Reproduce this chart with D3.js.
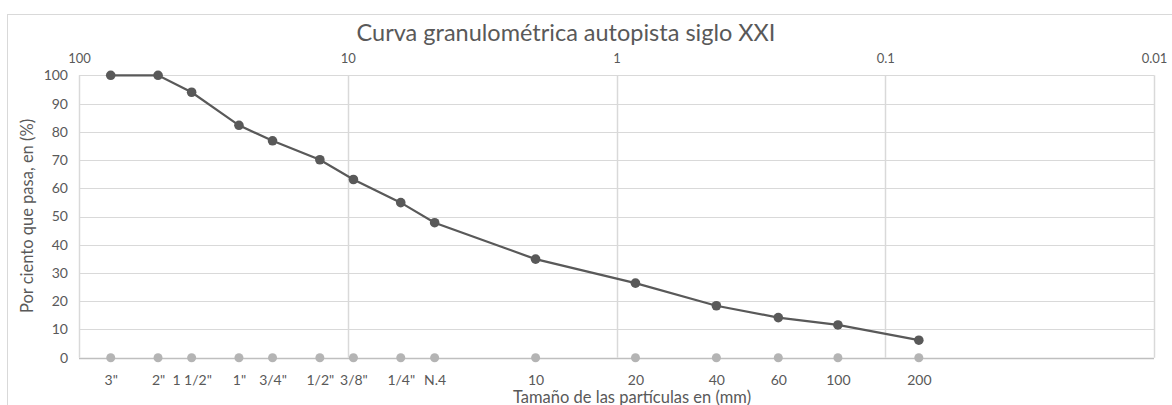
<!DOCTYPE html>
<html>
<head>
<meta charset="utf-8">
<script src="https://cdn.jsdelivr.net/npm/d3@7"></script>
<style>
  body { margin: 0; background: #fff; }
  svg { font-family: Lato, "Noto Sans", sans-serif; }
</style>
</head>
<body>
<div id="chart"></div>
<script>
// sieve labels and their opening sizes (mm)
var sieveLabels = ['3"', '2"', '1 1/2"', '1"', '3/4"', '1/2"', '3/8"', '1/4"', "N.4", "10", "20", "40", "60", "100", "200"];
var sieveSizes = [76.2, 50.8, 38.1, 25.4, 19.05, 12.7, 9.525, 6.35, 4.75, 2.0, 0.85, 0.425, 0.25, 0.15, 0.075];
// percent passing
var passing = [100, 100, 94, 82.3, 76.8, 70.1, 63.1, 54.9, 47.8, 34.9, 26.4, 18.4, 14.2, 11.6, 6.2];
var topTicks = [100, 10, 1, 0.1, 0.01];
var yTicks = [0, 10, 20, 30, 40, 50, 60, 70, 80, 90, 100];

function init()
{
    var w = 1172;
    var h = 405;
    var left = 79, right = 1154, top = 75.3, bottom = 357.7;
    var textColor = "#595959";
    var gridColor = "#d9d9d9";

    var svg = d3.select("#chart")
                .append("svg")
                .attr("width", w)
                .attr("height", h);

    // chart border
    svg.append("rect")
        .attr("x", 7.5).attr("y", 14.5)
        .attr("width", 1170).attr("height", 430)
        .attr("fill", "none")
        .attr("stroke", gridColor);

    var xScale = d3.scaleLog()
                .domain([100, 0.01])
                .range([left, right]);

    var yScale = d3.scaleLinear()
                .domain([0, 100])
                .range([bottom, top]);

    // horizontal grid
    svg.append("g").selectAll("line")
        .data(yTicks)
        .enter()
        .append("line")
        .attr("x1", left).attr("x2", right)
        .attr("y1", function(d){ return Math.round(yScale(d)) + 0.5; })
        .attr("y2", function(d){ return Math.round(yScale(d)) + 0.5; })
        .attr("stroke", function(d){ return d === 0 ? "#bfbfbf" : gridColor; })
        .attr("stroke-width", function(d){ return d === 0 ? 1.5 : 1; });

    // vertical grid at decades
    svg.append("g").selectAll("line")
        .data(topTicks)
        .enter()
        .append("line")
        .attr("x1", function(d){ return Math.round(xScale(d)) + 0.5; })
        .attr("x2", function(d){ return Math.round(xScale(d)) + 0.5; })
        .attr("y1", top).attr("y2", bottom)
        .attr("stroke", gridColor)
        .attr("stroke-width", 1.5);

    // top log axis
    var topAxis = d3.axisTop(xScale)
                .tickValues(topTicks)
                .tickFormat(function(d){ return String(d); })
                .tickSize(0)
                .tickPadding(0);
    var gTop = svg.append("g")
        .attr("transform", "translate(0," + 63 + ")")
        .call(topAxis);
    gTop.select(".domain").remove();
    gTop.selectAll("text")
        .attr("fill", textColor)
        .style("font-size", "13px")
        .style("font-family", "Lato, sans-serif");

    // left axis
    var yAxis = d3.axisLeft(yScale)
                .tickValues(yTicks)
                .tickSize(0)
                .tickPadding(11);
    var gY = svg.append("g")
        .attr("transform", "translate(" + left + ",0)")
        .call(yAxis);
    gY.select(".domain").remove();
    gY.selectAll("text")
        .attr("fill", textColor)
        .style("font-size", "14px")
        .style("font-family", "Lato, sans-serif");

    // bottom sieve labels
    var bottomAxis = d3.axisBottom(xScale)
                .tickValues(sieveSizes)
                .tickFormat(function(d, i){ return sieveLabels[i]; })
                .tickSize(0)
                .tickPadding(17);
    var gB = svg.append("g")
        .attr("transform", "translate(0," + bottom + ")")
        .call(bottomAxis);
    gB.select(".domain").remove();
    gB.selectAll("text")
        .attr("fill", textColor)
        .style("font-size", "14px")
        .style("font-family", "Lato, sans-serif");

    // gray markers on zero line
    svg.append("g").selectAll("circle")
        .data(sieveSizes)
        .enter()
        .append("circle")
        .attr("cx", function(d){ return xScale(d); })
        .attr("cy", yScale(0))
        .attr("r", 4.5)
        .attr("fill", "#b4b4b4");

    // grading curve
    var line = d3.line()
                .x(function(d, i){ return xScale(sieveSizes[i]); })
                .y(function(d){ return yScale(d); });

    svg.append("path")
        .datum(passing)
        .attr("d", line)
        .attr("fill", "none")
        .attr("stroke", "#595959")
        .attr("stroke-width", 2.2);

    svg.append("g").selectAll("circle")
        .data(passing)
        .enter()
        .append("circle")
        .attr("cx", function(d, i){ return xScale(sieveSizes[i]); })
        .attr("cy", function(d){ return yScale(d); })
        .attr("r", 4.8)
        .attr("fill", "#595959");

    // titles
    svg.append("text")
        .text("Curva granulométrica autopista siglo XXI")
        .attr("x", 566).attr("y", 41)
        .attr("text-anchor", "middle")
        .attr("fill", textColor)
        .style("font-size", "23.5px");

    svg.append("text")
        .text("Tamaño de las partículas en (mm)")
        .attr("x", 632).attr("y", 403)
        .attr("text-anchor", "middle")
        .attr("fill", textColor)
        .style("font-size", "16.5px");

    svg.append("text")
        .text("Por ciento que pasa, en (%)")
        .attr("transform", "translate(33," + 216 + ") rotate(-90)")
        .attr("text-anchor", "middle")
        .attr("fill", textColor)
        .style("font-size", "16.5px");
}
window.onload = init;
</script>
</body>
</html>
